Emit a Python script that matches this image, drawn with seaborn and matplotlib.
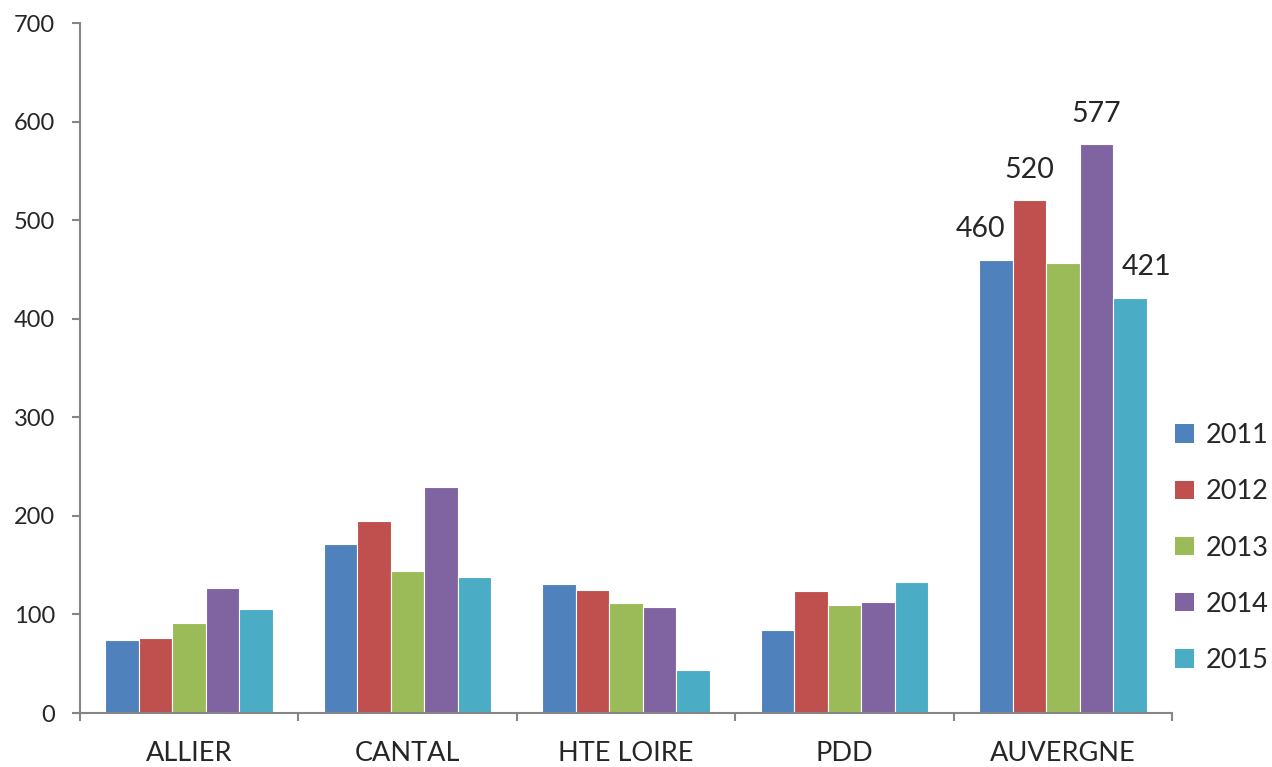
import numpy as np
import pandas as pd
import matplotlib
matplotlib.use("Agg")
import matplotlib.pyplot as plt
import seaborn as sns
from matplotlib.patches import Patch

# Données
zones = ["ALLIER", "CANTAL", "HTE LOIRE", "PDD", "AUVERGNE"]
annees = ["2011", "2012", "2013", "2014", "2015"]
v2011 = [74, 171, 131, 84, 460]
v2012 = [76, 195, 125, 124, 520]
v2013 = [91, 144, 112, 110, 457]
v2014 = [127, 229, 108, 113, 577]
v2015 = [106, 138, 44, 133, 421]
couleurs = ["#4F81BD", "#C0504D", "#9BBB59", "#8064A2", "#4BACC6"]

df = pd.DataFrame({"zone": zones, "2011": v2011, "2012": v2012, "2013": v2013,
                   "2014": v2014, "2015": v2015})
df_long = df.melt(id_vars="zone", var_name="annee", value_name="valeur")

sns.set_style("white")
plt.rcParams["font.family"] = ["Lato", "DejaVu Sans"]

fig = plt.figure(figsize=(12.72, 7.67), dpi=100)
ax = fig.add_axes([0.0629, 0.0704, 0.8585, 0.8996])

sns.barplot(data=df_long, x="zone", y="valeur", hue="annee", order=zones,
            hue_order=annees, palette=couleurs, width=0.767, saturation=1,
            edgecolor="white", linewidth=0.8, legend=False, ax=ax)

ax.set_xlim(-0.5, 4.5)
ax.set_ylim(0, 700)
ax.set_yticks(range(0, 701, 100))
ax.set_xlabel("")
ax.set_ylabel("")

gris = "#868686"
for s in ["top", "right"]:
    ax.spines[s].set_visible(False)
for s in ["left", "bottom"]:
    ax.spines[s].set_color(gris)
    ax.spines[s].set_linewidth(1.5)

ax.tick_params(axis="y", direction="out", length=6, width=1.5, color=gris,
               labelsize=17, pad=12, left=True)
ax.tick_params(axis="x", which="major", length=0, labelsize=19.5, pad=20)
ax.set_xticks(np.arange(-0.5, 4.6, 1), minor=True)
ax.tick_params(axis="x", which="minor", direction="out", length=6, width=1.5,
               color=gris, bottom=True)

# étiquettes AUVERGNE
decalages = [-11, 0, None, 0, 12]
for cont, dx in zip(ax.containers, decalages):
    if dx is None:
        continue
    b = cont.patches[-1]
    ax.annotate(f"{b.get_height():.0f}", (b.get_x() + b.get_width() / 2, b.get_height()),
                xytext=(dx, 22), textcoords="offset points", ha="center", va="center",
                fontsize=20.5)

handles = [Patch(facecolor=c, edgecolor="none") for c in couleurs]
fig.legend(handles, annees, loc="center left", bbox_to_anchor=(0.924, 0.2855),
           frameon=False, fontsize=19.5, handlelength=0.68, handleheight=0.68,
           handletextpad=0.45, labelspacing=1.15, borderpad=0, borderaxespad=0)

fig.savefig("out.png", dpi=100)
